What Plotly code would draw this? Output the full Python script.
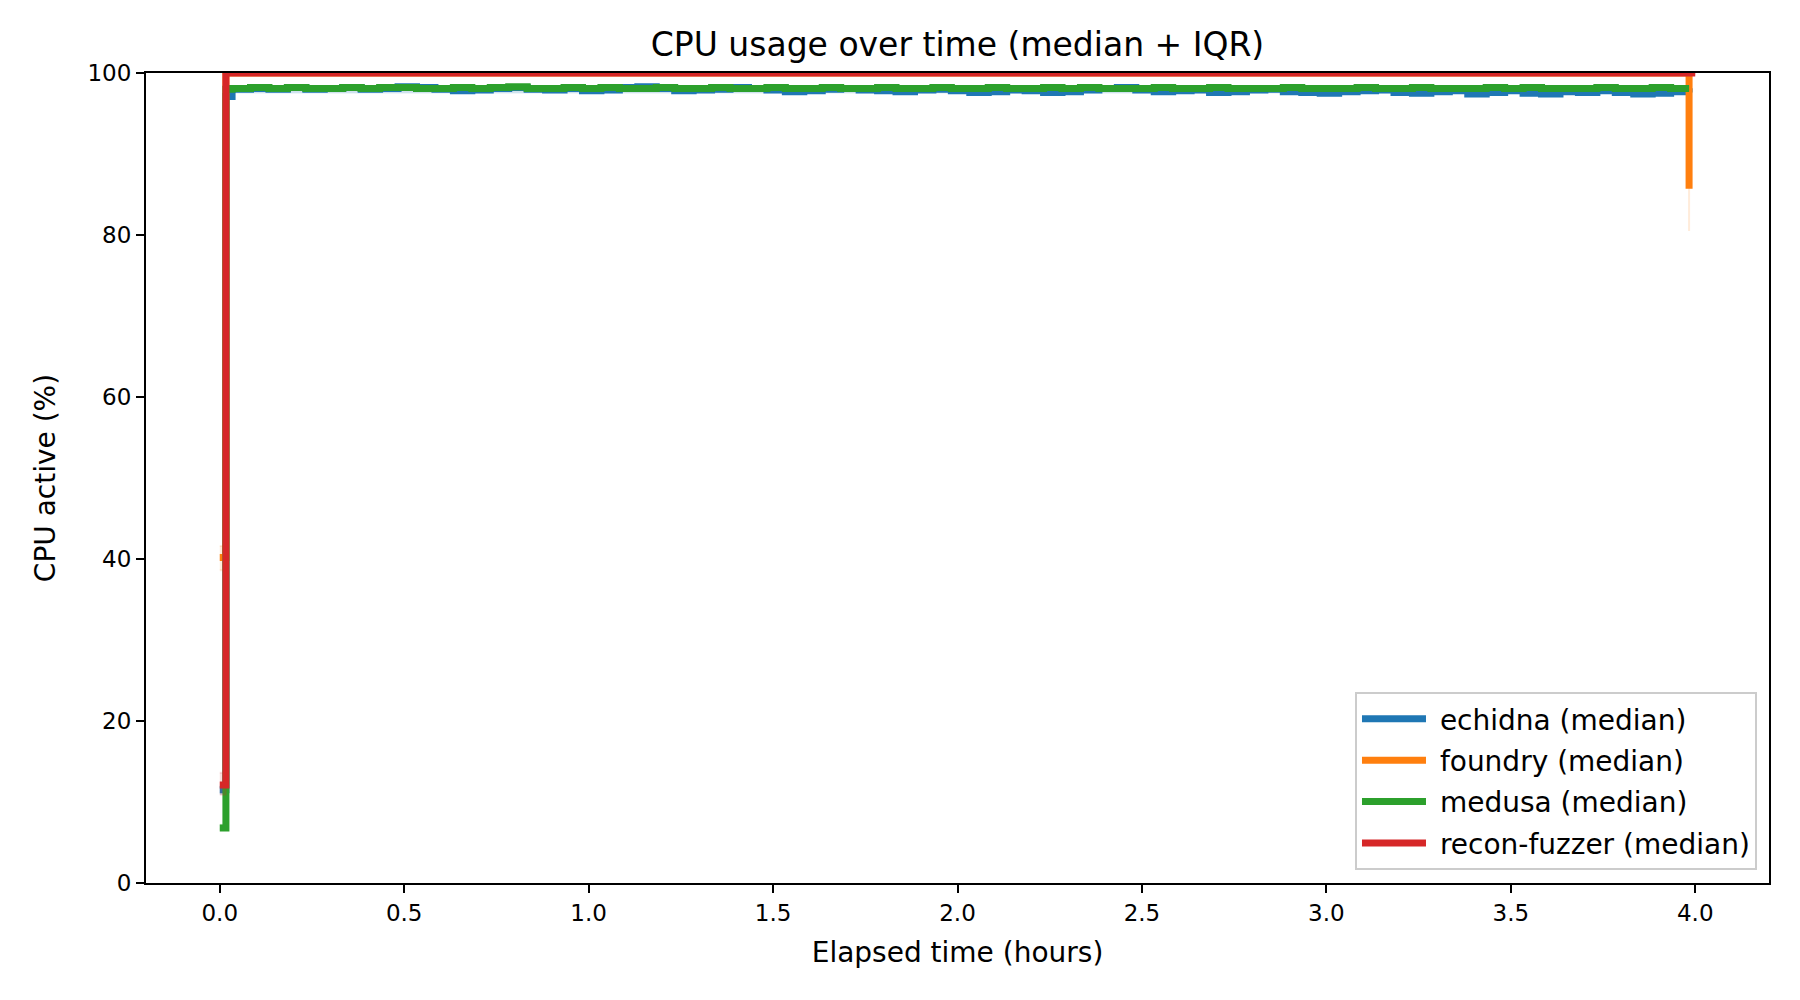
"""CPU usage over time per fuzzer: median as step line plus IQR band."""
import plotly.graph_objects as go

# ── Data (minutes since start, CPU active %) ─────────────────────────────────
FUZZERS = ["echidna", "foundry", "medusa", "recon-fuzzer"]
COLORS = {
    "echidna": "#1f77b4",
    "foundry": "#ff7f0e",
    "medusa": "#2ca02c",
    "recon-fuzzer": "#d62728",
}
FILL_RGB = {
    "echidna": "31,119,180",
    "foundry": "255,127,14",
    "medusa": "44,160,44",
    "recon-fuzzer": "214,39,40",
}

# sample times for the two wiggly series (minutes)
T_WIGGLE = [0, 1, 2] + list(range(5, 239, 3)) + [239]

ECHIDNA_MED = [
    11.5, 97.1,
    98.0, 98.1, 98.0, 98.2, 98.0, 98.1, 98.2, 98.0, 98.1,
    98.3, 98.2, 98.0, 97.8, 97.9, 98.1, 98.2, 98.0, 97.9, 98.1,
    97.8, 97.9, 98.2, 98.3, 98.1, 97.8, 97.9, 98.0, 98.2, 98.1,
    97.9, 97.7, 97.8, 98.0, 98.1, 97.9, 97.8, 97.7, 97.9, 98.0,
    97.8, 97.6, 97.7, 97.9, 97.8, 97.6, 97.7, 97.9, 98.1, 98.2,
    97.9, 97.7, 97.8, 97.9, 97.6, 97.7, 97.9, 98.0, 97.7, 97.6,
    97.5, 97.7, 97.8, 97.9, 97.6, 97.5, 97.7, 97.8, 97.4, 97.6,
    97.8, 97.5, 97.4, 97.7, 97.6, 97.8, 97.6, 97.4, 97.5, 97.7,
    97.6,
]
MEDUSA_MED = [
    6.8, 98.0,
    98.1, 98.2, 98.1, 98.2, 98.1, 98.1, 98.2, 98.1, 98.2,
    98.2, 98.1, 98.1, 98.2, 98.1, 98.2, 98.3, 98.1, 98.1, 98.2,
    98.1, 98.2, 98.1, 98.1, 98.2, 98.1, 98.1, 98.2, 98.1, 98.1,
    98.2, 98.1, 98.1, 98.2, 98.1, 98.1, 98.2, 98.1, 98.1, 98.2,
    98.1, 98.1, 98.2, 98.1, 98.1, 98.2, 98.1, 98.2, 98.1, 98.1,
    98.1, 98.2, 98.1, 98.1, 98.2, 98.1, 98.1, 98.1, 98.2, 98.1,
    98.1, 98.1, 98.2, 98.1, 98.1, 98.2, 98.1, 98.1, 98.1, 98.2,
    98.1, 98.2, 98.1, 98.1, 98.1, 98.2, 98.1, 98.1, 98.2, 98.1,
    98.1,
]

FOUNDRY_T = [0, 1, 239]
FOUNDRY_MED = [40.2, 100.0, 85.7]
RECON_T = [0, 1, 240]
RECON_MED = [12.1, 100.0, 100.0]

# IQR bands (sparse: only the start / end steps are visible)
IQR_T = {
    "echidna": [0, 1, 239],
    "foundry": [0, 1, 239],
    "medusa": [0, 1, 239],
    "recon-fuzzer": [0, 1, 240],
}
IQR_LO = {
    "echidna": [11.0, 97.6, 97.4],
    "foundry": [38.6, 99.8, 80.5],
    "medusa": [6.6, 97.9, 97.9],
    "recon-fuzzer": [10.9, 99.8, 99.8],
}
IQR_HI = {
    "echidna": [12.0, 98.2, 97.9],
    "foundry": [41.6, 100.0, 92.0],
    "medusa": [7.2, 98.3, 98.3],
    "recon-fuzzer": [13.6, 100.0, 100.0],
}

X_TICKS = [0.0, 0.5, 1.0, 1.5, 2.0, 2.5, 3.0, 3.5, 4.0]
Y_TICKS = [0, 20, 40, 60, 80, 100]

FONT = "DejaVu Sans"


def hours(minutes):
    return [m / 60 for m in minutes]


def build_figure() -> go.Figure:
    medians = {
        "echidna": (T_WIGGLE, ECHIDNA_MED),
        "foundry": (FOUNDRY_T, FOUNDRY_MED),
        "medusa": (T_WIGGLE, MEDUSA_MED),
        "recon-fuzzer": (RECON_T, RECON_MED),
    }
    fig = go.Figure()

    for name in FUZZERS:
        rgb = FILL_RGB[name]
        band = f"rgba({rgb},0.15)"
        tx = hours(IQR_T[name])
        fig.add_trace(go.Scatter(
            x=tx, y=IQR_LO[name], mode="lines", line_shape="hv",
            line=dict(color=band, width=2), showlegend=False, hoverinfo="skip",
        ))
        fig.add_trace(go.Scatter(
            x=tx, y=IQR_HI[name], mode="lines", line_shape="hv",
            line=dict(color=band, width=2), fill="tonexty", fillcolor=band,
            showlegend=False, hoverinfo="skip",
        ))

        t, med = medians[name]
        fig.add_trace(go.Scatter(
            x=hours(t), y=med, mode="lines", line_shape="hv",
            line=dict(color=COLORS[name], width=7),
            # leading nbsp widens the gap between legend swatch and label
            name=f"\u00a0{name} (median)", legendgroup=name,
        ))

    axis_common = dict(
        showline=True, mirror=True, linecolor="black", linewidth=2,
        ticks="outside", ticklen=8, tickwidth=2, tickcolor="black",
        showgrid=False, zeroline=False, automargin=False,
        tickfont=dict(family=FONT, size=23, color="black"),
    )
    fig.update_xaxes(
        range=[-0.2, 4.2], tickvals=X_TICKS, tickformat=".1f",
        title=dict(text="Elapsed time (hours)", standoff=18,
                   font=dict(family=FONT, size=28, color="black")),
        **axis_common,
    )
    fig.update_yaxes(
        range=[0, 100], tickvals=Y_TICKS,
        title=dict(text="CPU active (%)", standoff=24,
                   font=dict(family=FONT, size=28, color="black")),
        **axis_common,
    )

    # the page body adds a small offset, margins compensate for it
    fig.update_layout(
        width=1800, height=1000,
        margin=dict(l=138, r=39, t=65, b=125),
        paper_bgcolor="white", plot_bgcolor="white",
        font=dict(family=FONT, size=23, color="black"),
        title=dict(
            text="CPU usage over time (median + IQR)",
            x=0.5, xref="paper", y=1 - 36 / 1000, yref="container",
            xanchor="center", yanchor="middle",
            font=dict(family=FONT, size=33, color="black"),
        ),
        legend=dict(
            x=0.9926, y=0.016, xanchor="right", yanchor="bottom",
            bgcolor="rgba(255,255,255,0.8)", bordercolor="#cccccc", borderwidth=2,
            font=dict(family=FONT, size=28, color="black"),
            tracegroupgap=2, itemwidth=64,
        ),
        showlegend=True,
    )
    return fig


def main() -> None:
    fig = build_figure()
    fig.write_html("out.html")


if __name__ == "__main__":
    main()
